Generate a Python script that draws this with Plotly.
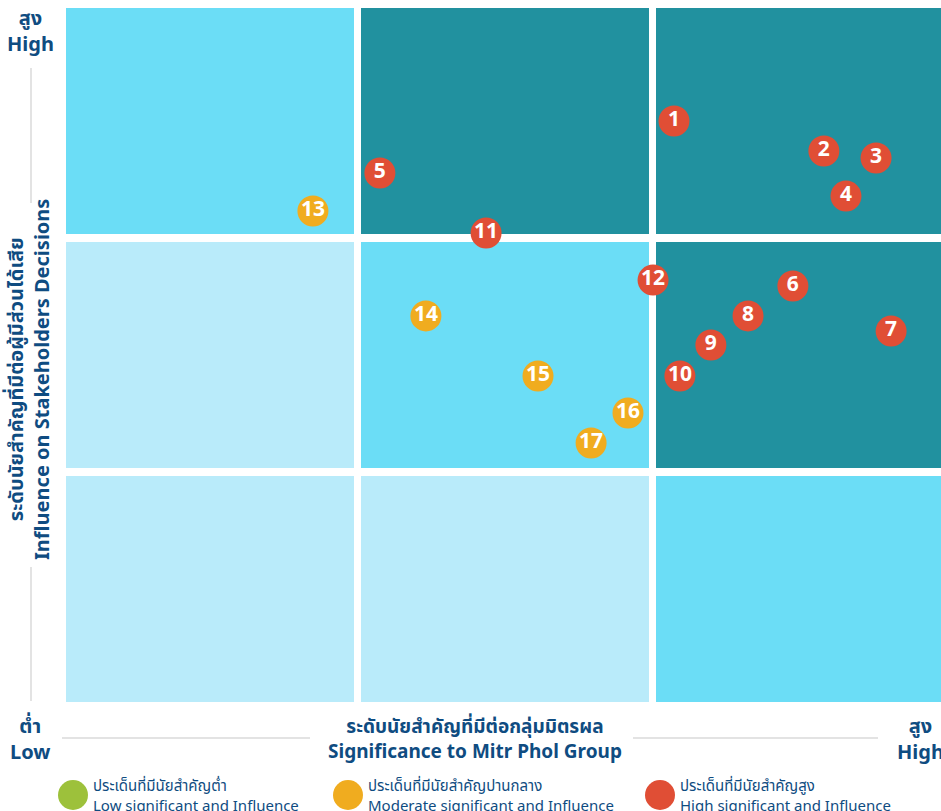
import plotly.graph_objects as go

# ---- data (scores; 0-3 scale, one unit per matrix cell) ----
issue_ids = ["1", "2", "3", "4", "5", "6", "7", "8", "9", "10", "11", "12", "13", "14", "15", "16", "17"]
significance = [2.061, 2.569, 2.746, 2.644, 1.064, 2.464, 2.797, 2.312, 2.186, 2.081,
                1.424, 1.990, 0.837, 1.220, 1.600, 1.905, 1.780]
influence = [2.483, 2.355, 2.325, 2.162, 2.261, 1.778, 1.585, 1.650, 1.526, 1.393,
             2.004, 1.803, 2.098, 1.650, 1.393, 1.235, 1.107]
level = ["high"] * 12 + ["moderate"] * 5

level_colors = {"low": "#9DC13B", "moderate": "#F0AC1F", "high": "#E04E35"}
legend_levels = ["low", "moderate", "high"]
legend_th = ["ประเด็นที่มีนัยสำคัญต่ำ", "ประเด็นที่มีนัยสำคัญปานกลาง", "ประเด็นที่มีนัยสำคัญสูง"]
legend_en = ["Low significant and Influence", "Moderate significant and Influence",
             "High significant and Influence"]

# cell shading: rows bottom->top, cols left->right
cell_colors = [
    ["#B9EBFA", "#B9EBFA", "#6BDDF6"],
    ["#B9EBFA", "#6BDDF6", "#21919F"],
    ["#6BDDF6", "#21919F", "#21919F"],
]

W, H = 941, 811
ML, MR, MT, MB = 66, 0, 8, 109
PW, PH = W - ML - MR, H - MT - MB
CELL_X, GAP_X = 288, 7
CELL_Y, GAP_Y = 226, 8
UX, UY = CELL_X + GAP_X, CELL_Y + GAP_Y
XR = [0, PW / UX]
YR = [0, PH / UY]

FONT = "Noto Sans, Noto Sans Thai, sans-serif"
TXT = "#0F4C81"

def px_x(px):
    return (px - ML) / PW

def px_y(py):
    return (H - MB - py) / PH

fig = go.Figure()

shapes = []
for r in range(3):
    for c in range(3):
        shapes.append(dict(type="rect", xref="x", yref="y", layer="below",
                           x0=c, x1=c + CELL_X / UX, y0=r, y1=r + CELL_Y / UY,
                           fillcolor=cell_colors[r][c], line=dict(width=0)))

for lvl in ["high", "moderate"]:
    idx = [i for i, l in enumerate(level) if l == lvl]
    fig.add_trace(go.Scatter(
        x=[significance[i] for i in idx], y=[influence[i] for i in idx],
        text=[issue_ids[i] for i in idx], mode="markers+text",
        marker=dict(size=31, color=level_colors[lvl], line=dict(width=0)),
        textfont=dict(family=FONT, size=21, color="white", weight="bold"),
        textposition="middle center", showlegend=False, cliponaxis=False,
        hoverinfo="text"))

# guide lines
line_style = dict(color="#E3E3E3", width=2)
for (y0, y1) in [(68, 203), (567, 701)]:
    shapes.append(dict(type="line", xref="paper", yref="paper",
                       x0=px_x(31), x1=px_x(31), y0=px_y(y0), y1=px_y(y1), line=line_style))
for (x0, x1) in [(62, 310), (633, 878)]:
    shapes.append(dict(type="line", xref="paper", yref="paper",
                       x0=px_x(x0), x1=px_x(x1), y0=px_y(738), y1=px_y(738), line=line_style))

annotations = []
def label(px, py, text, size=19, anchor="center", angle=0, color=TXT, weight="bold"):
    annotations.append(dict(xref="paper", yref="paper", x=px_x(px), y=px_y(py),
                            text=text, showarrow=False, xanchor=anchor, yanchor="middle",
                            textangle=angle, align="center" if anchor == "center" else "left",
                            font=dict(family=FONT, size=size, color=color, weight=weight)))

label(30, 30, "สูง<br>High", size=20)
label(30, 738, "ต่ำ<br>Low", size=20)
label(920, 738, "สูง<br>High", size=20)
label(475, 738, "ระดับนัยสำคัญที่มีต่อกลุ่มมิตรผล<br>Significance to Mitr Phol Group", size=19)
label(28, 380, "ระดับนัยสำคัญที่มีต่อผู้มีส่วนได้เสีย<br>Influence on Stakeholders Decisions",
      size=20, angle=-90)

legend_x = [73, 348, 660]
for lx, lvl, th, en in zip(legend_x, legend_levels, legend_th, legend_en):
    shapes.append(dict(type="circle", xref="paper", yref="paper",
                       xsizemode="pixel", ysizemode="pixel",
                       xanchor=px_x(lx), yanchor=px_y(795),
                       x0=-15, x1=15, y0=-15, y1=15,
                       fillcolor=level_colors[lvl], line=dict(width=0)))
    label(lx + 18, 795, th + "<br>" + en, size=15, anchor="left", color=TXT, weight="normal")

fig.update_layout(
    width=W, height=H,
    margin=dict(l=ML, r=MR, t=MT, b=MB),
    paper_bgcolor="white", plot_bgcolor="white",
    xaxis=dict(range=XR, visible=False, fixedrange=True),
    yaxis=dict(range=YR, visible=False, fixedrange=True),
    shapes=shapes, annotations=annotations,
)

fig.write_html("out.html", config={"displayModeBar": False},
               post_script="document.body.style.margin='0';document.body.style.overflow='hidden';")
